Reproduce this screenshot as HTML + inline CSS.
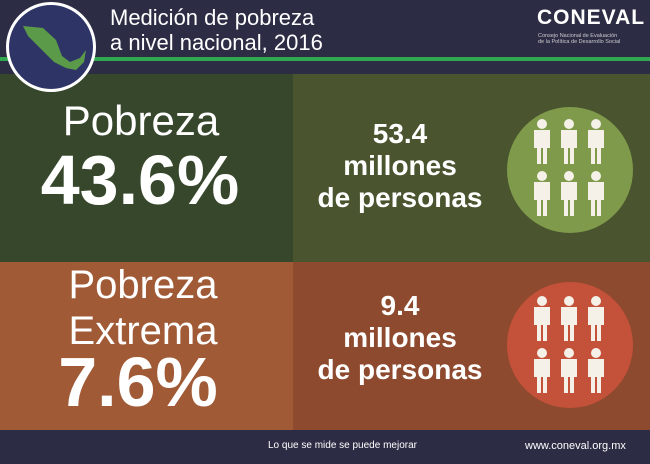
<!DOCTYPE html>
<html><head><meta charset="utf-8"><style>
*{margin:0;padding:0;box-sizing:border-box}
body{width:650px;height:464px;overflow:hidden;position:relative;font-family:"Liberation Sans",sans-serif;background:#2c2d45}
.abs{position:absolute}
.t{color:#fff;position:absolute;white-space:nowrap}
</style></head><body>
<div class="abs" style="left:0;top:0;width:650px;height:74px;background:#2c2d45"></div>
<div class="abs" style="left:0;top:57px;width:650px;height:4px;background:#2fa84f"></div>
<div class="abs" style="left:0;top:74px;width:293px;height:188px;background:#36472c"></div>
<div class="abs" style="left:293px;top:74px;width:357px;height:188px;background:#4a5530"></div>
<div class="abs" style="left:0;top:262px;width:650px;height:168px;background:#8e4a2e"></div>
<div class="abs" style="left:0;top:262px;width:293px;height:168px;background:#a05a36"></div>
<div class="abs" style="left:0;top:430px;width:650px;height:34px;background:#2c2d45"></div>
<div class="abs" style="left:6px;top:2px;width:90px;height:90px;border-radius:50%;background:#2e3566;border:3px solid #fff"></div>
<svg class="abs" style="left:18px;top:18px" width="70" height="60"><path d="M5 8 L25 10 L38 22 L44 38 L52 44 L62 40 L68 32 L66 44 L58 52 L48 50 L36 44 L26 34 L18 26 L10 18 Z" fill="#5a9a48"/></svg>
<div class="t" style="left:110px;top:5px;font-size:22px">Medición de pobreza</div>
<div class="t" style="left:110px;top:30px;font-size:22px">a nivel nacional, 2016</div>
<div class="t" style="left:537px;top:6px;font-size:21px;font-weight:bold;letter-spacing:1px">CONEVAL</div>
<div class="t" style="left:538px;top:33px;font-size:5.5px;color:#ccc">Consejo Nacional de Evaluación<br>de la Política de Desarrollo Social</div>
<div class="t" style="left:0;width:282px;text-align:center;top:97px;font-size:42px;line-height:48px">Pobreza</div>
<div class="t" style="left:0;width:280px;text-align:center;top:140px;font-size:70px;line-height:80px;font-weight:bold">43.6%</div>
<div class="t" style="left:300px;width:200px;text-align:center;top:118px;font-size:28px;line-height:32px;font-weight:bold">53.4<br>millones<br>de personas</div>
<div class="abs" style="left:507px;top:107px;width:126px;height:126px;border-radius:50%;background:#7f9a4b"></div>
<div class="t" style="left:0;width:286px;text-align:center;top:262px;font-size:40px;line-height:46px">Pobreza<br>Extrema</div>
<div class="t" style="left:0;width:276px;text-align:center;top:346px;font-size:70px;line-height:72px;font-weight:bold">7.6%</div>
<div class="t" style="left:300px;width:200px;text-align:center;top:290px;font-size:28px;line-height:32px;font-weight:bold">9.4<br>millones<br>de personas</div>
<div class="abs" style="left:507px;top:282px;width:126px;height:126px;border-radius:50%;background:#c4513a"></div>
<svg class="abs" style="left:0;top:0" width="650" height="464">
<defs><g id="p" fill="#f5f1e8"><circle cx="10" cy="6" r="5"/><rect x="2" y="12" width="16" height="18"/><rect x="5" y="30" width="4" height="16"/><rect x="11" y="30" width="4" height="16"/></g></defs>
<g><use href="#p" x="532" y="118"/><use href="#p" x="559" y="118"/><use href="#p" x="586" y="118"/>
<use href="#p" x="532" y="170"/><use href="#p" x="559" y="170"/><use href="#p" x="586" y="170"/></g>
<g><use href="#p" x="532" y="295"/><use href="#p" x="559" y="295"/><use href="#p" x="586" y="295"/>
<use href="#p" x="532" y="347"/><use href="#p" x="559" y="347"/><use href="#p" x="586" y="347"/></g>
</svg>
<div class="t" style="left:268px;top:440px;font-size:10px">Lo que se mide se puede mejorar</div>
<div class="t" style="left:525px;top:440px;font-size:11px">www.coneval.org.mx</div>
</body></html>
